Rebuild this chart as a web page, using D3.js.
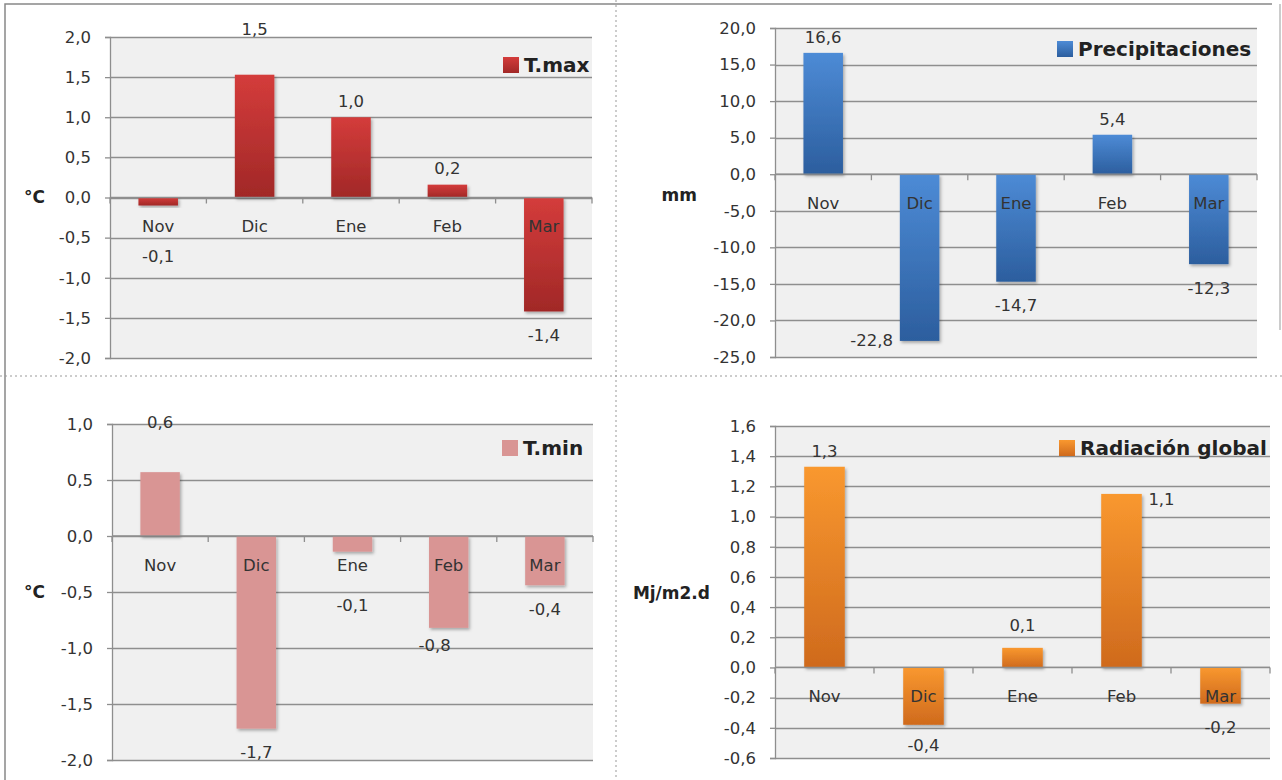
<!DOCTYPE html>
<html>
<head>
<meta charset="utf-8">
<script src="https://cdn.jsdelivr.net/npm/d3@7"></script>
<style>
  body { margin: 0; background: #fff; }
  svg { display: block; font-family: "DejaVu Sans", sans-serif; }
</style>
</head>
<body>
<svg width="1282" height="780"></svg>
<script>
// data
var months = ["Nov", "Dic", "Ene", "Feb", "Mar"];

var tmax = [-0.1, 1.53, 1.0, 0.16, -1.42];
var precip = [16.6, -22.8, -14.7, 5.4, -12.3];
var tmin = [0.57, -1.72, -0.14, -0.82, -0.44];
var radiacion = [1.33, -0.38, 0.13, 1.15, -0.24];

var tmaxTicks = [-2, -1.5, -1, -0.5, 0, 0.5, 1, 1.5, 2];
var precipTicks = [-25, -20, -15, -10, -5, 0, 5, 10, 15, 20];
var tminTicks = [-2, -1.5, -1, -0.5, 0, 0.5, 1];
var radTicks = [-0.6, -0.4, -0.2, 0, 0.2, 0.4, 0.6, 0.8, 1.0, 1.2, 1.4, 1.6];

// spanish number format: comma decimal, plain hyphen
var fmt = d3.formatLocale({decimal: ",", thousands: ".", grouping: [3], currency: ["", " €"], minus: "-"}).format(".1f");

var svg = d3.select("svg");
var defs = svg.append("defs");

var shadow = defs.append("filter").attr("id", "shadow")
    .attr("x", "-20%").attr("y", "-20%").attr("width", "150%").attr("height", "150%");
shadow.append("feDropShadow").attr("dx", 1.5).attr("dy", 2).attr("stdDeviation", 1.5)
    .attr("flood-color", "#000").attr("flood-opacity", 0.3);

function gradient(id, top, bottom) {
  var g = defs.append("linearGradient").attr("id", id)
      .attr("x1", 0).attr("y1", 0).attr("x2", 0).attr("y2", 1);
  g.append("stop").attr("offset", "0%").attr("stop-color", top);
  g.append("stop").attr("offset", "100%").attr("stop-color", bottom);
  return "url(#" + id + ")";
}

// panel frames, legends and label tweaks
var panels = [
  {values: tmax, ticks: tmaxTicks, name: "T.max", unit: "°C",
   fill: gradient("gMax", "#d43c3b", "#a12827"),
   box: [110, 592, 37, 358], unitPos: [45, 197], legend: [503, 57],
   nudge: [[0, 0], [0, -29], [0, 0], [0, 0], [0, 0]]},
  {values: precip, ticks: precipTicks, name: "Precipitaciones", unit: "mm",
   fill: gradient("gPre", "#4d8bd6", "#2c5e9e"),
   box: [775, 1257, 28, 357], unitPos: [697, 195], legend: [1057, 41],
   nudge: [[0, 0], [-48, -25], [0, 0], [0, 0], [0, 0]]},
  {values: tmin, ticks: tminTicks, name: "T.min", unit: "°C",
   fill: "#d99594",
   box: [112, 593, 424, 760], unitPos: [45, 592], legend: [502, 440],
   nudge: [[0, -34], [0, 0], [0, 10], [-14, -7], [0, 0]]},
  {values: radiacion, ticks: radTicks, name: "Radiación global", unit: "Mj/m2.d",
   fill: gradient("gRad", "#f9982f", "#cf6a1d"),
   box: [775, 1270, 426, 758], unitPos: [710, 593], legend: [1059, 440],
   nudge: [[0, 0], [0, -4], [0, -7], [40, 21], [0, 0]]}
];

// page frame and dotted separators
svg.append("path").attr("d", "M5,780V4H1272")
    .attr("fill", "none").attr("stroke", "#888").attr("stroke-width", 1.5);
svg.append("line").attr("x1", 1280).attr("x2", 1280).attr("y1", 4).attr("y2", 330)
    .attr("stroke", "#bbb").attr("stroke-width", 1.5);
svg.append("line").attr("x1", 0).attr("x2", 1282).attr("y1", 376).attr("y2", 376)
    .attr("stroke", "#999").attr("stroke-dasharray", "2,3");
svg.append("line").attr("x1", 616).attr("x2", 616).attr("y1", 0).attr("y2", 780)
    .attr("stroke", "#999").attr("stroke-dasharray", "2,3");

panels.forEach(function(p) {
  var x0 = p.box[0], x1 = p.box[1], y0 = p.box[2], y1 = p.box[3];
  var g = svg.append("g");

  var x = d3.scaleBand().domain(months).range([x0, x1]);
  var y = d3.scaleLinear().domain(d3.extent(p.ticks)).range([y1, y0]);
  var barW = x.bandwidth() * 0.41;
  var zero = y(0);

  // plot background
  g.append("rect").attr("x", x0).attr("y", y0)
      .attr("width", x1 - x0).attr("height", y1 - y0).attr("fill", "#f0f0f0");

  // gridlines
  g.selectAll(".grid").data(p.ticks).enter().append("line")
      .attr("x1", x0).attr("x2", x1)
      .attr("y1", function(d) { return Math.round(y(d)) + 0.5; })
      .attr("y2", function(d) { return Math.round(y(d)) + 0.5; })
      .attr("stroke", "#8e8e8e").attr("stroke-width", 1.3);

  // y axis
  var ax = g.append("g").attr("transform", "translate(" + x0 + ",0)")
      .call(d3.axisLeft(y).tickValues(p.ticks).tickSize(5).tickPadding(14).tickFormat(fmt));
  ax.select(".domain").attr("stroke", "#8e8e8e").attr("stroke-width", 1.3);
  ax.selectAll(".tick line").attr("stroke", "#8e8e8e").attr("stroke-width", 1.3);
  ax.selectAll(".tick text").attr("fill", "#333")
      .style("font-size", "16.5px").style("font-family", "'DejaVu Sans', sans-serif");

  // bars
  g.selectAll(".bar").data(p.values).enter().append("rect")
      .attr("x", function(d, i) { return x(months[i]) + (x.bandwidth() - barW) / 2; })
      .attr("y", function(d) { return Math.min(y(d), zero); })
      .attr("width", barW)
      .attr("height", function(d) { return Math.abs(y(d) - zero); })
      .attr("fill", p.fill)
      .attr("filter", "url(#shadow)");

  // category axis on the zero line
  g.append("line").attr("x1", x0).attr("x2", x1).attr("y1", zero).attr("y2", zero)
      .attr("stroke", "#8e8e8e").attr("stroke-width", 1.3);
  g.selectAll(".ctick").data(months.map(function(m) { return x(m); }).concat([x1])).enter()
      .append("line")
      .attr("x1", function(d) { return d; }).attr("x2", function(d) { return d; })
      .attr("y1", zero).attr("y2", zero + 6)
      .attr("stroke", "#8e8e8e").attr("stroke-width", 1.3);
  g.selectAll(".cat").data(months).enter().append("text")
      .attr("x", function(d) { return x(d) + x.bandwidth() / 2; })
      .attr("y", zero + 29).attr("dy", "0.35em")
      .attr("text-anchor", "middle").attr("fill", "#333")
      .style("font-size", "16.5px")
      .text(function(d) { return d; });

  // value labels, outside the bar end, moved clear of the month names
  g.selectAll(".val").data(p.values).enter().append("text")
      .attr("x", function(d, i) { return x(months[i]) + x.bandwidth() / 2 + p.nudge[i][0]; })
      .attr("y", function(d, i) {
        var cy = d >= 0 ? y(d) - 16 : y(d) + 24;
        if (d < 0 && Math.abs(cy - (zero + 29)) < 20) cy = zero + 59;
        return cy + p.nudge[i][1];
      })
      .attr("dy", "0.35em").attr("text-anchor", "middle").attr("fill", "#333")
      .style("font-size", "16.5px")
      .text(function(d) { return fmt(d); });

  // unit label
  g.append("text").attr("x", p.unitPos[0]).attr("y", p.unitPos[1]).attr("dy", "0.35em")
      .attr("text-anchor", "end").attr("font-weight", "bold").attr("fill", "#222")
      .style("font-size", "17px")
      .text(p.unit);

  // legend
  g.append("rect").attr("x", p.legend[0]).attr("y", p.legend[1])
      .attr("width", 16).attr("height", 16).attr("fill", p.fill);
  g.append("text").attr("x", p.legend[0] + 21).attr("y", p.legend[1] + 8).attr("dy", "0.36em")
      .attr("font-weight", "bold").attr("fill", "#222")
      .style("font-size", "20px")
      .text(p.name);
});
</script>
</body>
</html>
